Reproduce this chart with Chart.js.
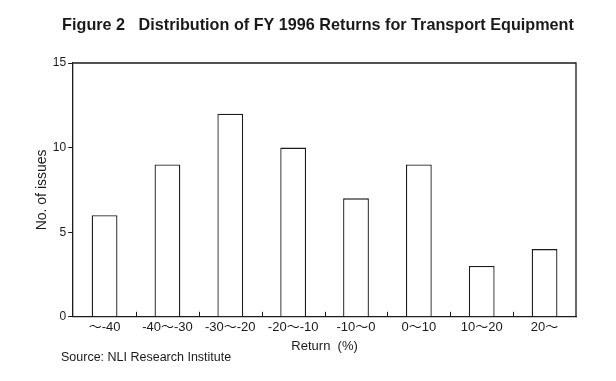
<!DOCTYPE html>
<html>
<head>
<meta charset="utf-8">
<script src="https://cdn.jsdelivr.net/npm/chart.js@4.4.0/dist/chart.umd.min.js"></script>
<style>
html,body{margin:0;padding:0;background:#fff;}
canvas{display:block;}
</style>
</head>
<body>
<canvas id="c" width="616" height="381"></canvas>
<script>
const categories = ['〜-40', '-40〜-30', '-30〜-20', '-20〜-10', '-10〜0', '0〜10', '10〜20', '20〜'];
const issues = [6, 9, 12, 10, 7, 9, 3, 4];
const yTicks = [0, 5, 10, 15];
const titleText = 'Figure 2   Distribution of FY 1996 Returns for Transport Equipment';
const sourceText = 'Source: NLI Research Institute';

const FONT = "'Liberation Sans', Arial, 'Noto Sans CJK JP', sans-serif";
const INK = '#1a1a1a';

const framePlugin = {
  id: 'frame',
  afterDatasetsDraw(chart) {
    const {ctx, chartArea: a, scales: {x}} = chart;
    ctx.save();
    ctx.strokeStyle = INK;
    ctx.lineWidth = 1.3;
    ctx.beginPath();
    ctx.moveTo(a.left, a.top);
    ctx.lineTo(a.right, a.top);
    ctx.lineTo(a.right, a.bottom);
    ctx.stroke();
    ctx.lineWidth = 1;
    for (let i = 1; i < categories.length; i++) {
      const px = Math.round(x.getPixelForValue(i - 0.5)) + 0.5;
      ctx.beginPath();
      ctx.moveTo(px, a.bottom);
      ctx.lineTo(px, a.bottom - 5);
      ctx.stroke();
    }
    ctx.fillStyle = INK;
    // title
    ctx.font = 'bold 16.2px ' + FONT;
    ctx.textAlign = 'center';
    ctx.textBaseline = 'middle';
    ctx.fillText(titleText, 318, 26);
    // source
    ctx.font = '12.5px ' + FONT;
    ctx.textAlign = 'left';
    ctx.fillText(sourceText, 61, 358);
    ctx.restore();
  }
};

new Chart(document.getElementById('c'), {
  type: 'bar',
  data: {
    labels: categories,
    datasets: [{
      data: issues,
      backgroundColor: '#ffffff',
      borderColor: INK,
      borderWidth: 1.3,
      borderSkipped: 'bottom',
      categoryPercentage: 1,
      barPercentage: 0.41
    }]
  },
  options: {
    responsive: false,
    animation: false,
    devicePixelRatio: 1,
    layout: {padding: {left: 34, right: 40, top: 63, bottom: 27}},
    plugins: {
      legend: {display: false},
      tooltip: {enabled: false},
      title: {display: false}
    },
    scales: {
      x: {
        grid: {display: false, drawTicks: false},
        border: {display: true, color: INK, width: 1.3},
        ticks: {color: INK, font: {family: FONT, size: 13}, padding: 3, maxRotation: 0, autoSkip: false},
        title: {display: true, text: 'Return  (%)', color: INK, font: {family: FONT, size: 13}, padding: {top: 0, bottom: 0}}
      },
      y: {
        min: 0,
        max: 15,
        afterBuildTicks(scale) { scale.ticks = yTicks.map(v => ({value: v})); },
        grid: {display: true, drawOnChartArea: false, drawTicks: true, tickLength: 5, color: INK},
        border: {display: true, color: INK, width: 1.3},
        ticks: {color: INK, font: {family: FONT, size: 12}, padding: 2},
        title: {display: true, text: 'No. of issues', color: INK, font: {family: FONT, size: 14}, padding: {top: 0, bottom: 0}}
      }
    }
  },
  plugins: [framePlugin]
});
</script>
</body>
</html>
